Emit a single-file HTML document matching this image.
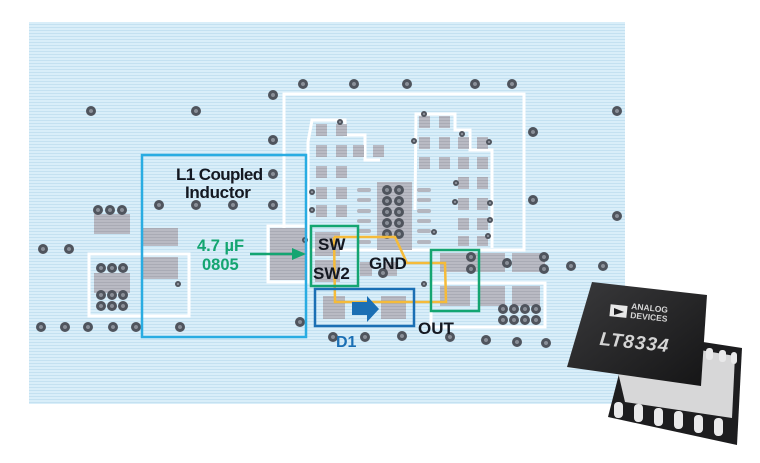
<!DOCTYPE html>
<html><head><meta charset="utf-8"><style>
html,body{margin:0;padding:0;background:#fff;width:760px;height:463px;overflow:hidden}
svg{display:block}
text{font-family:"Liberation Sans",sans-serif;font-weight:bold}
</style></head><body>
<svg width="760" height="463" viewBox="0 0 760 463" xmlns="http://www.w3.org/2000/svg">
<defs>
<pattern id="st" width="4" height="3" patternUnits="userSpaceOnUse">
<rect width="4" height="3" fill="#d9eef9"/><rect width="4" height="1" fill="#c4e1f1"/>
</pattern>
<pattern id="pd" width="4" height="3" patternUnits="userSpaceOnUse">
<rect width="4" height="3" fill="#b9bac3"/><rect width="4" height="1" fill="#a9abb5"/>
</pattern>
<radialGradient id="vg"><stop offset="0.35" stop-color="#8a8f98"/><stop offset="0.45" stop-color="#4f545d"/><stop offset="1" stop-color="#4f545d"/></radialGradient>
<linearGradient id="cb" x1="0" y1="0" x2="1" y2="1"><stop offset="0" stop-color="#3a3a3c"/><stop offset="1" stop-color="#151516"/></linearGradient>
</defs>
<rect x="29" y="22" width="596" height="382" fill="url(#st)"/>
<g fill="none" stroke="#fff" stroke-width="3">
<rect x="284" y="94" width="240" height="156"/>
<rect x="89" y="254" width="100" height="62"/>
<rect x="268" y="226" width="40" height="56"/>
<rect x="431" y="283" width="114" height="44"/>
<polyline points="308,250 308,142 312,120 345,120 345,135 365,135 365,160 380,160"/>
<polyline points="415,210 416,114 455,114 455,130 470,130 470,150 492,150 492,248"/>
</g>
<g fill="url(#pd)">
<rect x="94" y="214" width="36" height="20"/><rect x="94" y="273" width="36" height="20"/>
<rect x="143" y="228" width="35" height="18"/><rect x="143" y="257" width="35" height="22"/>
<rect x="270" y="228" width="35" height="52"/>
<rect x="316" y="124" width="11" height="12"/><rect x="336" y="124" width="11" height="12"/>
<rect x="316" y="145" width="11" height="12"/><rect x="336" y="145" width="11" height="12"/><rect x="353" y="145" width="11" height="12"/><rect x="373" y="145" width="11" height="12"/>
<rect x="316" y="166" width="11" height="12"/><rect x="336" y="166" width="11" height="12"/>
<rect x="316" y="187" width="11" height="12"/><rect x="336" y="187" width="11" height="12"/>
<rect x="316" y="205" width="11" height="12"/><rect x="336" y="205" width="11" height="12"/>
<rect x="419" y="116" width="11" height="12"/><rect x="439" y="116" width="11" height="12"/>
<rect x="419" y="137" width="11" height="12"/><rect x="439" y="137" width="11" height="12"/><rect x="458" y="137" width="11" height="12"/><rect x="477" y="137" width="11" height="12"/>
<rect x="419" y="157" width="11" height="12"/><rect x="439" y="157" width="11" height="12"/><rect x="458" y="157" width="11" height="12"/><rect x="477" y="157" width="11" height="12"/>
<rect x="458" y="177" width="11" height="12"/><rect x="477" y="177" width="11" height="12"/>
<rect x="458" y="198" width="11" height="12"/><rect x="477" y="198" width="11" height="12"/>
<rect x="458" y="218" width="11" height="12"/><rect x="477" y="218" width="11" height="12"/>
<rect x="458" y="236" width="11" height="10"/><rect x="477" y="236" width="11" height="10"/>
<rect x="377" y="182" width="35" height="68"/>
<rect x="315" y="232" width="25" height="24"/><rect x="315" y="260" width="25" height="22"/>
<rect x="323" y="296" width="22" height="23"/><rect x="381" y="296" width="25" height="23"/>
<rect x="440" y="253" width="65" height="19"/><rect x="512" y="253" width="33" height="19"/>
<rect x="440" y="286" width="30" height="20"/><rect x="480" y="286" width="25" height="20"/><rect x="512" y="286" width="28" height="20"/>
<rect x="360" y="262" width="12" height="14"/><rect x="385" y="262" width="12" height="14"/>
</g>
<g fill="#b4b6bf">
<rect x="357" y="188" width="14" height="4" rx="2"/><rect x="357" y="198" width="14" height="4" rx="2"/><rect x="357" y="209" width="14" height="4" rx="2"/><rect x="357" y="219" width="14" height="4" rx="2"/><rect x="357" y="229" width="14" height="4" rx="2"/><rect x="357" y="240" width="14" height="4" rx="2"/>
<rect x="417" y="188" width="14" height="4" rx="2"/><rect x="417" y="198" width="14" height="4" rx="2"/><rect x="417" y="209" width="14" height="4" rx="2"/><rect x="417" y="219" width="14" height="4" rx="2"/><rect x="417" y="229" width="14" height="4" rx="2"/><rect x="417" y="240" width="14" height="4" rx="2"/>
</g>
<g fill="url(#vg)">
<circle cx="91" cy="111" r="5"/><circle cx="196" cy="111" r="5"/><circle cx="273" cy="95" r="5"/><circle cx="303" cy="84" r="5"/><circle cx="354" cy="84" r="5"/><circle cx="273" cy="140" r="5"/><circle cx="273" cy="174" r="5"/>
<circle cx="159" cy="205" r="5"/><circle cx="196" cy="205" r="5"/><circle cx="233" cy="205" r="5"/><circle cx="273" cy="205" r="5"/>
<circle cx="98" cy="210" r="5"/><circle cx="110" cy="210" r="5"/><circle cx="122" cy="210" r="5"/>
<circle cx="407" cy="84" r="5"/><circle cx="475" cy="84" r="5"/><circle cx="512" cy="84" r="5"/><circle cx="533" cy="132" r="5"/><circle cx="533" cy="200" r="5"/><circle cx="617" cy="111" r="5"/><circle cx="617" cy="216" r="5"/>
<circle cx="43" cy="249" r="5"/><circle cx="69" cy="249" r="5"/>
<circle cx="41" cy="327" r="5"/><circle cx="65" cy="327" r="5"/><circle cx="88" cy="327" r="5"/><circle cx="113" cy="327" r="5"/><circle cx="136" cy="327" r="5"/><circle cx="180" cy="327" r="5"/>
<circle cx="101" cy="268" r="5"/><circle cx="112" cy="268" r="5"/><circle cx="123" cy="268" r="5"/>
<circle cx="101" cy="295" r="5"/><circle cx="112" cy="295" r="5"/><circle cx="123" cy="295" r="5"/><circle cx="101" cy="306" r="5"/><circle cx="112" cy="306" r="5"/><circle cx="123" cy="306" r="5"/>
<circle cx="300" cy="322" r="5"/><circle cx="333" cy="337" r="5"/><circle cx="365" cy="337" r="5"/><circle cx="402" cy="336" r="5"/><circle cx="450" cy="337" r="5"/><circle cx="486" cy="340" r="5"/><circle cx="517" cy="342" r="5"/><circle cx="546" cy="343" r="5"/>
<circle cx="471" cy="257" r="5"/><circle cx="471" cy="269" r="5"/><circle cx="507" cy="263" r="5"/><circle cx="544" cy="257" r="5"/><circle cx="544" cy="269" r="5"/><circle cx="571" cy="266" r="5"/><circle cx="603" cy="266" r="5"/>
<circle cx="503" cy="309" r="5"/><circle cx="514" cy="309" r="5"/><circle cx="525" cy="309" r="5"/><circle cx="536" cy="309" r="5"/><circle cx="503" cy="320" r="5"/><circle cx="514" cy="320" r="5"/><circle cx="525" cy="320" r="5"/><circle cx="536" cy="320" r="5"/>
<circle cx="387" cy="190" r="5"/><circle cx="399" cy="190" r="5"/><circle cx="387" cy="201" r="5"/><circle cx="399" cy="201" r="5"/><circle cx="387" cy="212" r="5"/><circle cx="399" cy="212" r="5"/><circle cx="387" cy="223" r="5"/><circle cx="399" cy="223" r="5"/><circle cx="387" cy="234" r="5"/><circle cx="399" cy="234" r="5"/>
<circle cx="383" cy="273" r="5"/>
<circle cx="340" cy="122" r="3"/><circle cx="312" cy="192" r="3"/><circle cx="312" cy="210" r="3"/><circle cx="424" cy="114" r="3"/><circle cx="414" cy="141" r="3"/><circle cx="462" cy="134" r="3"/><circle cx="489" cy="142" r="3"/><circle cx="456" cy="183" r="3"/><circle cx="455" cy="202" r="3"/><circle cx="490" cy="203" r="3"/><circle cx="490" cy="220" r="3"/><circle cx="488" cy="236" r="3"/><circle cx="434" cy="232" r="3"/><circle cx="178" cy="284" r="3"/><circle cx="424" cy="284" r="3"/><circle cx="305" cy="240" r="3"/>
</g>
<rect x="142" y="155" width="164" height="182" fill="none" stroke="#29ace2" stroke-width="2.5"/>
<polyline points="334,237 395,237 407,263 445,263 446,302 335,302 334,237" fill="none" stroke="#f5bb3a" stroke-width="2.5"/>
<rect x="311" y="226" width="47" height="60" fill="none" stroke="#14a571" stroke-width="2.5"/>
<rect x="431" y="250" width="48" height="61" fill="none" stroke="#14a571" stroke-width="2.5"/>
<rect x="315" y="289" width="99" height="37" fill="none" stroke="#1b6fb4" stroke-width="2.5"/>
<polygon points="352,302 367,302 367,296 379,309 367,322 367,315 352,315" fill="#1b6fb4"/>
<line x1="250" y1="254" x2="293" y2="254" stroke="#14a571" stroke-width="2.5"/>
<polygon points="292,248 306,254 292,260" fill="#14a571"/>
<g fill="#141821" font-size="17">
<text x="176" y="180" letter-spacing="-0.6">L1 Coupled</text>
<text x="185" y="198" letter-spacing="-0.3">Inductor</text>
<text x="318" y="250">SW</text>
<text x="313" y="279">SW2</text>
<text x="369" y="269">GND</text>
<text x="418" y="334">OUT</text>
</g>
<text x="197" y="251" fill="#14a571" font-size="16.5">4.7 µF</text>
<text x="202" y="270" fill="#14a571" font-size="16.5">0805</text>
<text x="336" y="347" fill="#1b6fb4" font-size="16">D1</text>
<polygon points="620,370 703,342 742,348 737,445 608,417" fill="#1d1d1f"/>
<polygon points="618,372 700,350 735,356 732,418 625,402" fill="#d7d7d8"/>
<g fill="#e9e9ea">
<rect x="614" y="402" width="9" height="16" rx="4"/><rect x="634" y="404" width="9" height="18" rx="4"/><rect x="654" y="408" width="9" height="18" rx="4"/><rect x="674" y="411" width="9" height="18" rx="4"/><rect x="694" y="415" width="9" height="18" rx="4"/><rect x="714" y="418" width="9" height="18" rx="4"/>
<rect x="706" y="348" width="7" height="12" rx="3"/><rect x="719" y="350" width="7" height="12" rx="3"/><rect x="731" y="352" width="6" height="12" rx="3"/>
</g>
<polygon points="592,282 707,295 701,386 567,367" fill="url(#cb)"/>
<rect x="610" y="305" width="17" height="12" fill="#e8e8e8" transform="rotate(6 618 311)"/>
<polygon points="614,308 624,312 614,315" fill="#1d1d1f"/>
<g transform="rotate(6 650 310)" fill="#d5d5d5" font-weight="normal">
<text x="631" y="311" font-size="8.5">ANALOG</text>
<text x="631" y="320" font-size="8.5">DEVICES</text>
<text x="603" y="350" font-size="19" font-style="italic" letter-spacing="1">LT8334</text>
</g>
</svg>
</body></html>
